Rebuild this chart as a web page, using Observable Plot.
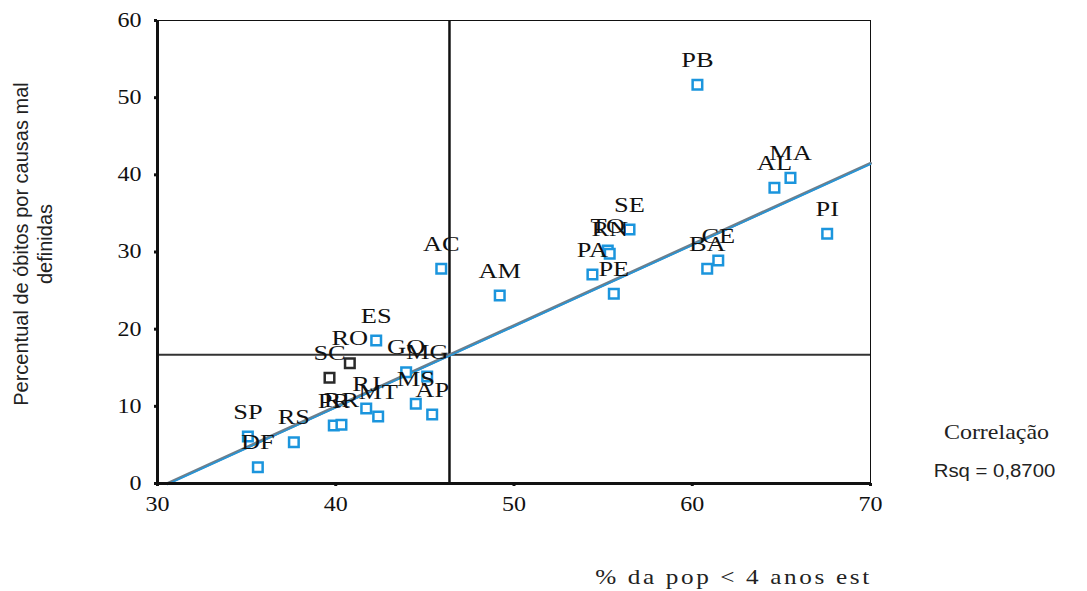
<!DOCTYPE html>
<html><head><meta charset="utf-8">
<script src="https://cdn.jsdelivr.net/npm/d3@7"></script>
<script src="https://cdn.jsdelivr.net/npm/@observablehq/plot@0.6"></script>
<style>
body{margin:0;background:#fff;}
</style>
</head><body><div id="chart"></div>
<script>
// Brazilian states (UF)
const states = ["PB","MA","AL","PI","SE","TO","RN","PA","PE","CE","BA","AC","AM","ES","RO","SC","GO","MG","MS","AP","RJ","MT","PR","RR","SP","DF","RS"];
// % da pop < 4 anos est
const pctYoung = [60.29,65.51,64.61,67.57,56.48,55.26,55.37,54.40,55.60,61.46,60.84,45.92,49.20,42.27,40.79,39.65,43.95,45.13,44.49,45.41,41.71,42.38,39.89,40.32,35.07,35.63,37.65];
// Percentual de óbitos por causas mal definidas
const pctIllDefined = [51.67,39.61,38.32,32.36,32.91,30.19,29.77,27.08,24.58,28.90,27.82,27.82,24.36,18.53,15.59,13.70,14.42,13.87,10.33,8.94,9.72,8.68,7.52,7.61,6.09,2.11,5.35];
// states drawn with dark markers
const darkStates = ["RO","SC"];
// reference lines (means)
const meanX = 46.38;
const meanY = 16.68;
// fitted regression line endpoints
const fitX = [30.55, 70];
const fitY = [0, 41.5];
const xTicks = [30,40,50,60,70];
const yTicks = [0,10,20,30,40,50,60];
const xLabel = "% da pop < 4 anos est";
const yLabel = "Percentual de óbitos por causas mal\ndefinidas";
const corrLabel = "Correlação";
const rsqLabel = "Rsq = 0,8700";

const SERIF = "'Liberation Serif', 'Times New Roman', serif";
const SANS = "'Liberation Sans', Arial, sans-serif";

const data = states.map((s,i)=>({state:s, x:pctYoung[i], y:pctIllDefined[i], dark:darkStates.includes(s)}));
const fit = fitX.map((x,i)=>({x, y:fitY[i]}));

const chart = Plot.plot({
  width:1087, height:591,
  marginLeft:157, marginRight:217, marginTop:20, marginBottom:108,
  x:{domain:[30,70]},
  y:{domain:[0,60]},
  style:{fontFamily:SERIF, fontSize:"20px", background:"white", color:"#111"},
  marks:[
    Plot.frame({stroke:"#111", strokeWidth:1}),
    Plot.ruleX([meanX], {stroke:"#111", strokeWidth:2.5}),
    Plot.ruleY([meanY], {stroke:"#333", strokeWidth:2}),
    Plot.line(fit, {x:"x", y:"y", stroke:"#6e7e8a", strokeWidth:3}),
    Plot.line(fit, {x:"x", y:"y", stroke:"#2595d8", strokeWidth:1.5, dy:1}),
    Plot.ruleX([30], {stroke:"#111", strokeWidth:3}),
    Plot.ruleY([0], {stroke:"#111", strokeWidth:3}),
    Plot.axisX({ticks:xTicks, tickSize:3, tickPadding:10, strokeWidth:3, label:null, fontSize:20, fontFamily:SERIF, fontVariant:"normal", tickFormat:d=>String(d)}),
    Plot.axisY({ticks:yTicks, tickSize:3, tickPadding:13, strokeWidth:3, label:null, fontSize:20, fontFamily:SERIF, fontVariant:"normal", tickFormat:d=>String(d)}),
    Plot.dot(data.filter(d=>!d.dark), {x:"x", y:"y", symbol:"square", r:5.4, stroke:"#1b95dd", strokeWidth:2.5, fill:"white"}),
    Plot.dot(data.filter(d=>d.dark), {x:"x", y:"y", symbol:"square", r:5.4, stroke:"#2a2a2a", strokeWidth:2.5, fill:"white"}),
    Plot.text(data, {x:"x", y:"y", text:"state", dy:-25, fontSize:22, fontFamily:SERIF, fill:"#111", lineAnchor:"middle"}),
    Plot.text([xLabel], {text:d=>d, frameAnchor:"bottom", textAnchor:"middle", lineAnchor:"middle", dx:219.5, dy:94, fontSize:21, fontFamily:SERIF, fill:"#222"}),
    Plot.text([yLabel], {text:d=>d, frameAnchor:"left", textAnchor:"middle", lineAnchor:"middle", rotate:-90, dx:-125, dy:-8, fontSize:20, lineHeight:1.2, fontFamily:SANS, fill:"#222"}),
    Plot.text([corrLabel], {text:d=>d, frameAnchor:"top-right", textAnchor:"middle", lineAnchor:"middle", dx:126, dy:412, fontSize:20, fontFamily:SERIF, fill:"#222"}),
    Plot.text([rsqLabel], {text:d=>d, frameAnchor:"top-right", textAnchor:"middle", lineAnchor:"middle", dx:124, dy:451, fontSize:18.5, fontFamily:SANS, fill:"#222"})
  ]
});

// horizontal stretch of the glyphs, as in the reference rendering
chart.querySelectorAll("text").forEach(t=>{
  const content = t.textContent;
  if (content.startsWith("Percentual")) return;
  let sx = 1.2;
  if (content === rsqLabel) sx = 1.1;
  if (content === xLabel) t.style.letterSpacing = "2.2px";
  const tr = t.getAttribute("transform");
  if (tr) t.setAttribute("transform", tr + ` scale(${sx},1)`);
  else {
    const x = +(t.getAttribute("x")||0), y = +(t.getAttribute("y")||0);
    t.setAttribute("x",0); t.setAttribute("y",0);
    t.setAttribute("transform", `translate(${x},${y}) scale(${sx},1)`);
  }
});
document.getElementById("chart").append(chart);
</script>
</body></html>
